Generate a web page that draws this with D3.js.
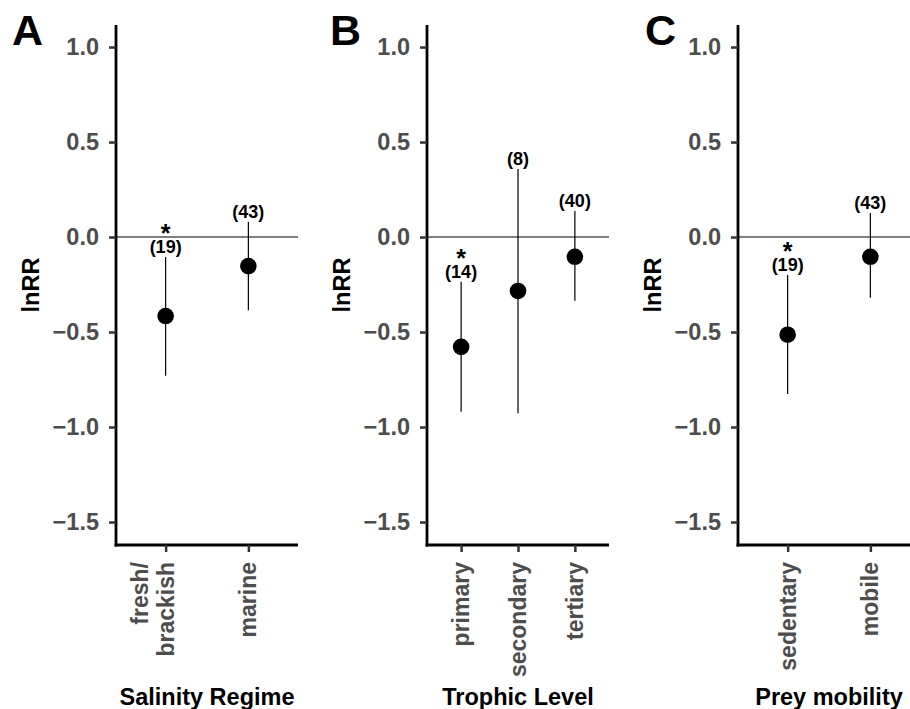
<!DOCTYPE html>
<html>
<head>
<meta charset="utf-8">
<script src="https://d3js.org/d3.v7.min.js"></script>
<style>
  body { margin: 0; background: #fff; }
  text { font-family: 'Liberation Sans', Arial, sans-serif; font-weight: bold; }
  .tick text { fill: #4d4d4d; font-size: 23.5px; }
  .tick line { stroke: #333; stroke-width: 2.5; }
  .domain { stroke: #000; stroke-width: 2.8; }
</style>
</head>
<body>
<script>
  // panel A
  var salinityCats = ["fresh/\nbrackish", "marine"];
  var salinityMean = [-0.416, -0.153];
  var salinityLow  = [-0.73, -0.385];
  var salinityHigh = [-0.105, 0.08];
  var salinityN    = [19, 43];
  var salinitySig  = [true, false];

  // panel B
  var trophicCats = ["primary", "secondary", "tertiary"];
  var trophicMean = [-0.578, -0.284, -0.104];
  var trophicLow  = [-0.92, -0.928, -0.335];
  var trophicHigh = [-0.235, 0.358, 0.137];
  var trophicN    = [14, 8, 40];
  var trophicSig  = [true, false, false];

  // panel C
  var mobilityCats = ["sedentary", "mobile"];
  var mobilityMean = [-0.514, -0.104];
  var mobilityLow  = [-0.826, -0.32];
  var mobilityHigh = [-0.2, 0.126];
  var mobilityN    = [19, 43];
  var mobilitySig  = [true, false];

  var yTicks = [-1.5, -1.0, -0.5, 0.0, 0.5, 1.0];

  var panels = [
    {letter: "A", title: "Salinity Regime", cats: salinityCats, mean: salinityMean, lo: salinityLow, hi: salinityHigh, n: salinityN, sig: salinitySig, x0: 116, lx: 12},
    {letter: "B", title: "Trophic Level", cats: trophicCats, mean: trophicMean, lo: trophicLow, hi: trophicHigh, n: trophicN, sig: trophicSig, x0: 427, lx: 330},
    {letter: "C", title: "Prey mobility", cats: mobilityCats, mean: mobilityMean, lo: mobilityLow, hi: mobilityHigh, n: mobilityN, sig: mobilitySig, x0: 738, lx: 645}
  ];

  var width = 910, height = 709;
  var panelW = 182, yTop = 25, yBottom = 545;

  var svg = d3.select("body").append("svg")
    .attr("width", width)
    .attr("height", height);

  var y = d3.scaleLinear()
    .domain([-1.621, 1.116])
    .range([yBottom, yTop]);

  panels.forEach(function(p) {
    var g = svg.append("g");

    var x = d3.scalePoint()
      .domain(p.cats)
      .range([p.x0, p.x0 + panelW])
      .padding(0.6);

    // zero line
    g.append("line")
      .attr("x1", p.x0).attr("x2", p.x0 + panelW)
      .attr("y1", y(0)).attr("y2", y(0))
      .attr("stroke", "#000").attr("stroke-width", 1.1);

    // y axis
    var ya = g.append("g")
      .attr("transform", "translate(" + p.x0 + ",0)")
      .call(d3.axisLeft(y).tickValues(yTicks).tickFormat(d3.format(".1f"))
        .tickSize(7).tickSizeOuter(0).tickPadding(10));

    // x axis
    var xa = g.append("g")
      .attr("transform", "translate(0," + yBottom + ")")
      .call(d3.axisBottom(x).tickSize(7).tickSizeOuter(0).tickFormat(""));
    ya.select(".domain").attr("d", "M0," + (yBottom + 1.4) + "V" + yTop);
    xa.select(".domain").attr("d", "M" + (p.x0 - 1.4) + ",0H" + (p.x0 + panelW));

    // rotated category labels
    p.cats.forEach(function(c) {
      var lines = c.split("\n");
      var t = g.append("g")
        .attr("transform", "translate(" + x(c) + "," + (yBottom + 17) + ") rotate(-90)");
      lines.forEach(function(l, i) {
        t.append("text")
          .attr("y", (i - (lines.length - 1)) * 26)
          .attr("dy", "0.35em")
          .attr("text-anchor", "end")
          .attr("fill", "#4d4d4d")
          .style("font-size", "23px")
          .text(l);
      });
    });

    // error bars, points, labels
    p.cats.forEach(function(c, i) {
      var cx = x(c);
      g.append("line")
        .attr("x1", cx).attr("x2", cx)
        .attr("y1", y(p.lo[i])).attr("y2", y(p.hi[i]))
        .attr("stroke", "#000").attr("stroke-width", 1.2);
      g.append("circle")
        .attr("cx", cx).attr("cy", y(p.mean[i]))
        .attr("r", 8.3).attr("fill", "#000");
      g.append("text")
        .attr("x", cx).attr("y", y(p.hi[i]) - 4)
        .attr("text-anchor", "middle")
        .style("font-size", "18px")
        .text("(" + p.n[i] + ")");
      if (p.sig[i]) {
        g.append("text")
          .attr("x", cx).attr("y", y(p.hi[i]) - 15)
          .attr("text-anchor", "middle")
          .style("font-size", "25px")
          .text("*");
      }
    });

    // axis titles
    g.append("text")
      .attr("transform", "translate(" + (p.x0 - 85) + "," + ((yTop + yBottom) / 2) + ") rotate(-90)")
      .attr("dy", "0.35em")
      .attr("text-anchor", "middle")
      .style("font-size", "23.5px")
      .text("lnRR");
    g.append("text")
      .attr("x", p.x0 + panelW / 2).attr("y", 705)
      .attr("text-anchor", "middle")
      .style("font-size", "23.5px")
      .text(p.title);

    // panel letter
    g.append("text")
      .attr("x", p.lx).attr("y", 45)
      .style("font-size", "43px")
      .text(p.letter);
  });
</script>
</body>
</html>
